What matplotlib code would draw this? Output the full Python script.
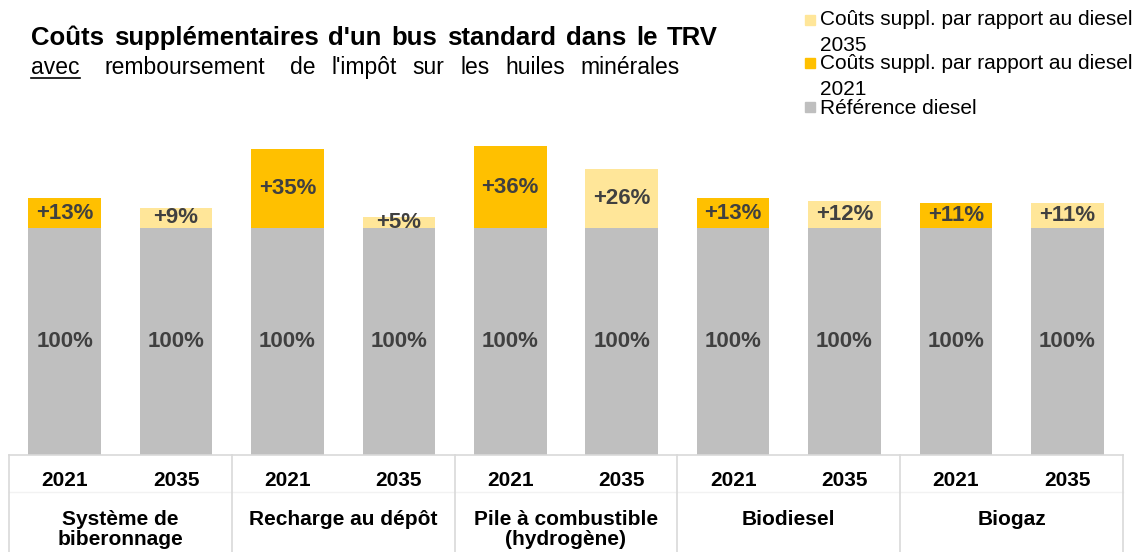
import numpy as np
import matplotlib.pyplot as plt
from matplotlib.patches import Rectangle

plt.rcParams['font.family'] = ['Liberation Sans', 'DejaVu Sans']

# data
groups = ["Système de\nbiberonnage", "Recharge au dépôt", "Pile à combustible\n(hydrogène)", "Biodiesel", "Biogaz"]
years = ["2021", "2035"]
base = [100, 100, 100, 100, 100, 100, 100, 100, 100, 100]
extra_2021 = [13, 35, 36, 13, 11]
extra_2035 = [9, 5, 26, 12, 11]

title = "Coûts supplémentaires d'un bus standard dans le TRV"
subtitle = "avec remboursement de l'impôt sur les huiles minérales"
legend_labels = ["Coûts suppl. par rapport au diesel\n2035",
                 "Coûts suppl. par rapport au diesel\n2021",
                 "Référence diesel"]

c_grey = "#BFBFBF"
c_2021 = "#FFC000"
c_2035 = "#FFE699"
c_lab = "#404040"
c_line = "#D9D9D9"

W, H = 1142, 552
fig = plt.figure(figsize=(W / 100, H / 100), dpi=100)


def fy(py):
    # pixel row from top -> figure fraction
    return 1 - py / H


# axes placed in pixel terms
ax_l, ax_r, ax_b, ax_t = 9, 1123, 455, 137
ax = fig.add_axes([ax_l / W, 1 - ax_b / H, (ax_r - ax_l) / W, (ax_b - ax_t) / H])
ax.set_xlim(0, 10)
ax.set_ylim(0, (ax_b - ax_t) / 2.27)
ax.axis("off")

x = np.arange(10) + 0.5
extras = []
colors = []
for a, b in zip(extra_2021, extra_2035):
    extras += [a, b]
    colors += [c_2021, c_2035]

ax.bar(x, base, width=0.65, color=c_grey)
ax.bar(x, extras, bottom=base, width=0.65, color=colors)

for xi, b, e in zip(x, base, extras):
    ax.text(xi, b / 2, f"{b}%", ha="center", va="center", fontsize=16,
            fontweight="bold", color=c_lab)
    ax.text(xi, b + e / 2, f"+{e}%", ha="center", va="center", fontsize=16,
            fontweight="bold", color=c_lab)

# table below the bars
tr = ax.get_xaxis_transform()
ax.plot([0, 10], [0, 0], color=c_line, lw=1.2, transform=tr, clip_on=False)
ax.plot([0, 10], [-37 / 318, -37 / 318], color="#F2F2F2", lw=1, transform=tr, clip_on=False)
for gx in range(0, 11, 2):
    ax.plot([gx, gx], [0, -0.4], color=c_line, lw=1.2, transform=tr, clip_on=False)

for i, xi in enumerate(x):
    ax.text(xi, -(486 - ax_b) / 318, years[i % 2], ha="center", va="baseline",
            fontsize=15, fontweight="bold", color="black", transform=tr)
for g, name in enumerate(groups):
    for k, line in enumerate(name.split("\n")):
        ax.text(2 * g + 1, -(525 + 20 * k - ax_b) / 318, line, ha="center",
                va="baseline", fontsize=15, fontweight="bold", color="black",
                transform=tr)


# title / subtitle: words spread out to the reference line length
def spread_words(words, x0, x1, py, gap_w, **kw):
    arts = [fig.text(0, fy(py), w, ha="left", va="baseline", **kw) for w in words]
    fig.canvas.draw()
    r = fig.canvas.get_renderer()
    widths = [a.get_window_extent(r).width for a in arts]
    free = (x1 - x0) - sum(widths)
    unit = free / sum(gap_w)
    px = x0
    for a, wd, k in zip(arts, widths, range(len(arts))):
        a.set_x(px / W)
        if k < len(gap_w):
            px += wd + unit * gap_w[k]
    return arts


spread_words(title.split(), 31, 718, 45, [1] * 7, fontsize=18.5, fontweight="bold")
sub = spread_words(subtitle.split(), 31, 680, 74, [1.6, 1.6, 1, 1, 1, 1, 1], fontsize=16.5)
fig.canvas.draw()
bb = sub[0].get_window_extent()
fig.add_artist(plt.Line2D([bb.x0 / W, bb.x1 / W], [fy(78), fy(78)], color="black", lw=1.2))

# legend drawn by hand
leg_cols = [c_2035, c_2021, c_grey]
leg_sq = [15, 58, 102]
leg_base = [[25, 51], [69, 95], [114]]
for col, lab, sq, bases in zip(leg_cols, legend_labels, leg_sq, leg_base):
    fig.add_artist(Rectangle((805 / W, fy(sq + 10)), 10 / W, 10 / H,
                             color=col, transform=fig.transFigure))
    for line, py in zip(lab.split("\n"), bases):
        fig.text(820 / W, fy(py), line, fontsize=15, ha="left", va="baseline")

fig.savefig("out.png", dpi=100)
